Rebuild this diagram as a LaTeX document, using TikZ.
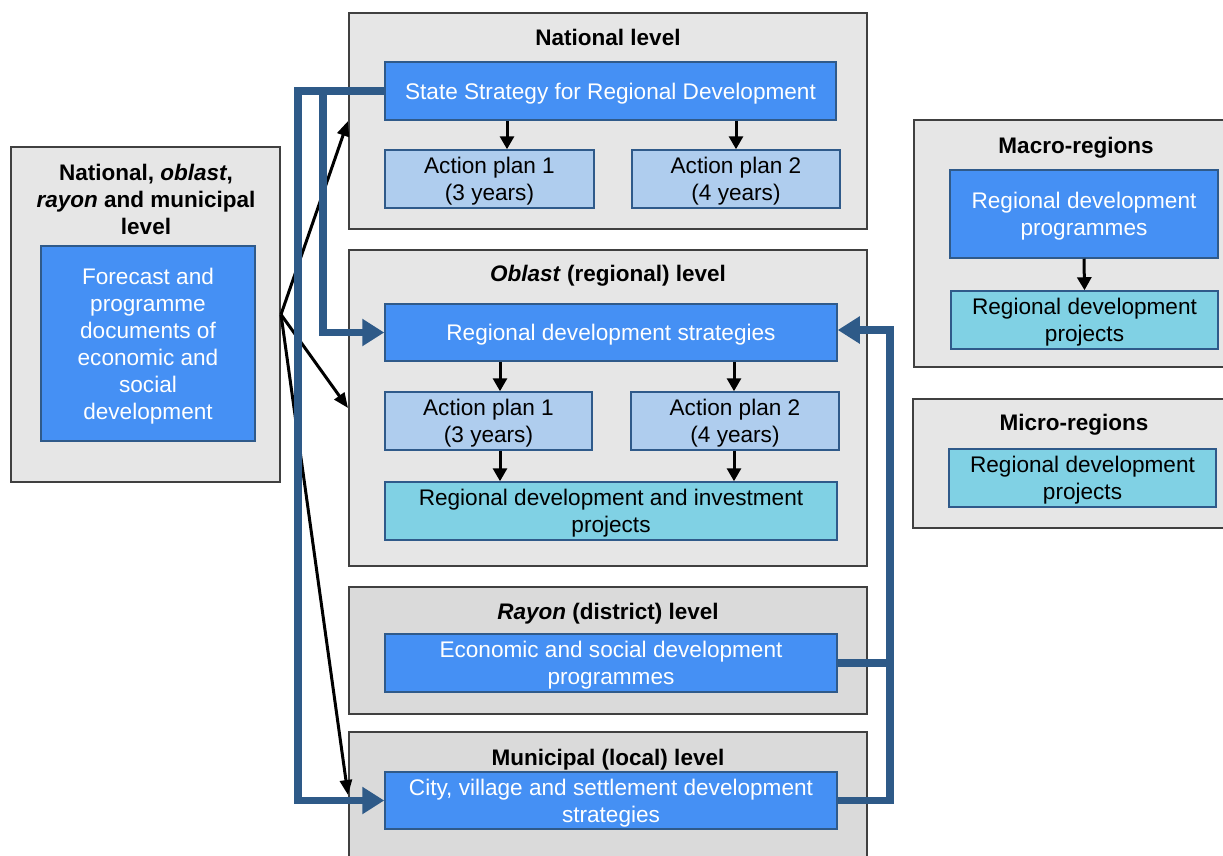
\documentclass[tikz,border=0pt]{standalone}
\usepackage{fontspec}
\setmainfont{Liberation Sans}
\usetikzlibrary{arrows.meta}
\definecolor{outerfill}{HTML}{E6E6E6}
\definecolor{outerfillB}{HTML}{DADADA}
\definecolor{outerline}{HTML}{404040}
\definecolor{blueA}{HTML}{4590F4}
\definecolor{lightA}{HTML}{AFCDEE}
\definecolor{cyanA}{HTML}{80D1E4}
\definecolor{edgeblue}{HTML}{2F5A8A}
\definecolor{linkblue}{HTML}{2E5A88}
\begin{document}
\begin{tikzpicture}[x=1pt,y=-1pt,
 outer/.style={draw=outerline, fill=outerfill, line width=2pt, inner sep=0pt},
 outerB/.style={outer, fill=outerfillB},
 box/.style={draw=edgeblue, line width=1.5pt, inner sep=0pt, align=center, text depth=0pt, font=\fontsize{22.6}{27}\selectfont},
 dark/.style={box, fill=blueA, text=white},
 light/.style={box, fill=lightA},
 cyanbox/.style={box, fill=cyanA},
 ttl/.style={font=\fontsize{22.5}{27}\selectfont\bfseries, align=center, inner sep=0pt},
 bk/.style={-{Triangle[length=13pt,width=14pt]}, line width=3pt, black},
 feed/.style={-{Triangle[length=15pt,width=12pt]}, line width=3pt, black},
 link/.style={draw=linkblue, line width=7.5pt, line join=miter},
 linkarr/.style={link, -{Triangle[length=22pt,width=26pt]}}
]
\useasboundingbox (0,0) rectangle (1223,855);
\clip (0,0) rectangle (1223,855);

% outer boxes
\node[outer, minimum width=518pt, minimum height=216pt] (nat) at (608,121) {};
\node[outer, minimum width=518pt, minimum height=316pt] (obl) at (608,408) {};
\node[outerB, minimum width=518pt, minimum height=127pt] (ray) at (608,650.5) {};
\node[outerB, minimum width=518pt, minimum height=126pt] (mun) at (608,795) {};
\node[outer, minimum width=269pt, minimum height=335pt] (left) at (145.5,314.5) {};
\node[outer, minimum width=318pt, minimum height=247pt] (macro) at (1073,243.5) {};
\node[outer, minimum width=319pt, minimum height=129pt] (micro) at (1072.5,463.5) {};

% titles
\node[ttl, anchor=base] (tnat) at (608,45) {National level};
\node[ttl, anchor=base] (tobl) at (608,281) {\textit{Oblast} (regional) level};
\node[ttl, anchor=base] (tray) at (608,619) {\textit{Rayon} (district) level};
\node[ttl, anchor=base] (tmun) at (608,765) {Municipal (local) level};
\node[ttl, anchor=base] (tmac) at (1076,153) {Macro-regions};
\node[ttl, anchor=base] (tmic) at (1074,430) {Micro-regions};
\node[ttl, anchor=north] (tleft) at (146,164) {National, \textit{oblast},\\\textit{rayon} and municipal\\level};

% inner boxes
\node[dark, minimum width=451pt, minimum height=58pt] (ssrd) at (610.5,91) {State Strategy for Regional Development};
\node[light, minimum width=209pt, minimum height=58pt] (nap1) at (489.5,179) {Action plan 1\\(3 years)};
\node[light, minimum width=208pt, minimum height=58pt] (nap2) at (736,179) {Action plan 2\\(4 years)};
\node[dark, minimum width=452pt, minimum height=57pt] (rds) at (611,332.5) {Regional development strategies};
\node[light, minimum width=207pt, minimum height=58pt] (oap1) at (488.5,421) {Action plan 1\\(3 years)};
\node[light, minimum width=208pt, minimum height=58pt] (oap2) at (735,421) {Action plan 2\\(4 years)};
\node[cyanbox, minimum width=452pt, minimum height=58pt] (rdip) at (611,511) {Regional development and investment\\projects};
\node[dark, minimum width=452pt, minimum height=58pt] (esdp) at (611,663) {Economic and social development\\programmes};
\node[dark, minimum width=452pt, minimum height=57pt] (city) at (611,800.5) {City, village and settlement development\\strategies};
\node[dark, minimum width=214pt, minimum height=195pt] (fore) at (148,343.5) {Forecast and\\programme\\documents of\\economic and\\social\\development};
\node[dark, minimum width=268pt, minimum height=88pt] (mrdp) at (1084,214) {Regional development\\programmes};
\node[cyanbox, minimum width=267pt, minimum height=58pt] (mproj) at (1084.5,320) {Regional development\\projects};
\node[cyanbox, minimum width=267pt, minimum height=58pt] (uproj) at (1082.5,478) {Regional development\\projects};

% black arrows inside boxes
\coordinate (c1) at (507,0);
\coordinate (c2) at (736,0);
\coordinate (c3) at (500,0);
\coordinate (c4) at (734,0);
\draw[bk] (ssrd.south -| c1) -- (nap1.north -| c1);
\draw[bk] (ssrd.south -| c2) -- (nap2.north -| c2);
\draw[bk] (rds.south -| c3) -- (oap1.north -| c3);
\draw[bk] (rds.south -| c4) -- (oap2.north -| c4);
\draw[bk] (oap1.south -| c3) -- (rdip.north -| c3);
\draw[bk] (oap2.south -| c4) -- (rdip.north -| c4);
\draw[bk] (mrdp.south) -- (mproj.north);

% feed arrows from left box
\draw[feed] (left.east) -- (nat.west);
\draw[feed] (left.east) -- (obl.west);
\draw[feed] (left.east) -- (mun.west);

% blue links
\coordinate (lc) at (298,91);
\coordinate (bc) at (323,91);
\coordinate (rc) at (890,330);
\draw[linkarr] (ssrd.west) -- (lc) |- (city.west);
\draw[linkarr] (bc) |- (rds.west);
\draw[linkarr] (city.east) -| (rc) -- (rds.east |- rc);
\draw[link] (esdp.east) -- (esdp.east -| rc);
\end{tikzpicture}
\end{document}
